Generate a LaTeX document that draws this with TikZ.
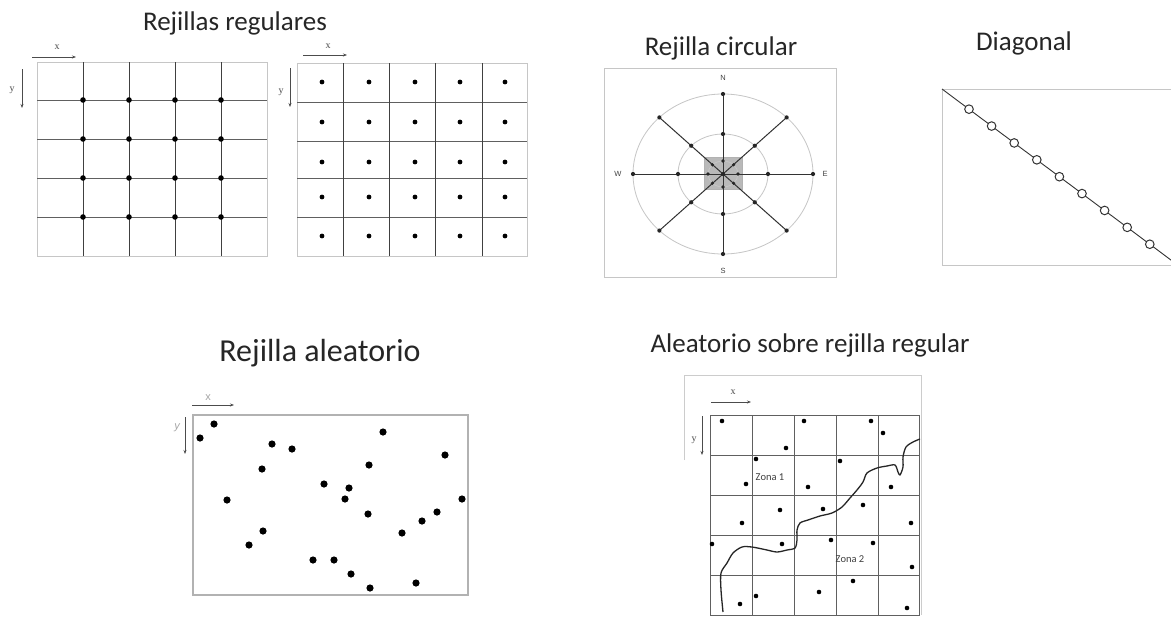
\documentclass[tikz,border=0pt]{standalone}
\usepackage{fontspec}
\setmainfont{Carlito}
\newfontfamily\serifx{Liberation Serif}
\newfontfamily\sansl{Liberation Sans}
\usetikzlibrary{arrows.meta,calc}
\begin{document}
\begin{tikzpicture}[x=1pt,y=-1pt,
  title/.style={font=\fontsize{27}{31}\selectfont, text=black!85, inner sep=0pt},
  bigtitle/.style={font=\fontsize{32}{36}\selectfont, text=black!85, inner sep=0pt},
  axlbl/.style={font=\serifx\fontsize{10}{11}\selectfont, text=black!70, inner sep=0pt},
  cmp/.style={font=\sansl\fontsize{7.5}{8}\selectfont, text=black!75, inner sep=0pt},
  zona/.style={font=\fontsize{10.5}{12}\selectfont, text=black!75, inner sep=0pt},
  axarrow/.style={-{Stealth[length=4pt,width=3pt]}, draw=gray!60!black, line width=0.7},
  gridline/.style={draw=gray!75!black, line width=0.8},
  vgridline/.style={draw=gray!50!black, line width=0.9},
  frame/.style={draw=gray!45, line width=1},
  spoke/.style={draw=gray!40!black, line width=1},
  ring/.style={draw=gray!45, line width=0.8}]
\useasboundingbox (0,0) rectangle (1171,627);
\fill[white] (0,0) rectangle (1171,627);

% ---------- titles ----------
\node[title] (t1) at (235,23) {Rejillas regulares};
\node[title] (t2) at (721,48) {Rejilla circular};
\node[title] (t3) at (1024,43) {Diagonal};
\node[bigtitle] (t4) at (320,353) {Rejilla aleatorio};
\node[title] (t5) at (810,345) {Aleatorio sobre rejilla regular};

% ---------- grid 1 (points on intersections) ----------
\draw[frame] (37,62) rectangle (267,256);
\foreach \y in {100,139,178,217} \draw[gridline] (37,\y) -- (267,\y);
\foreach \x in {83,129,175,221} \draw[vgridline] (\x,62) -- (\x,256);
\foreach \x in {83,129,175,221}
  \foreach \y in {100,139,178,217} \fill[black] (\x,\y) circle[radius=2.8];
\coordinate (g1xa) at (32,57); \coordinate (g1xb) at (76,57);
\draw[axarrow] (g1xa) -- (g1xb);
\node[axlbl] (g1x) at (57,47) {x};
\coordinate (g1ya) at (22,69); \coordinate (g1yb) at (22,108);
\draw[axarrow] (g1ya) -- (g1yb);
\node[axlbl] (g1y) at (12,90) {y};

% ---------- grid 2 (points in cell centres) ----------
\draw[frame] (297,63) rectangle (527,256);
\foreach \y in {102,141,178,217} \draw[gridline] (297,\y) -- (527,\y);
\foreach \x in {343,389,435,482} \draw[vgridline] (\x,63) -- (\x,256);
\foreach \x in {322,369,415,460,505}
  \foreach \y in {82,122,162,197,236} \fill[black] (\x,\y) circle[radius=2.4];
\coordinate (g2xa) at (303,55); \coordinate (g2xb) at (347,55);
\draw[axarrow] (g2xa) -- (g2xb);
\node[axlbl] (g2x) at (328,46) {x};
\coordinate (g2ya) at (290,68); \coordinate (g2yb) at (290,107);
\draw[axarrow] (g2ya) -- (g2yb);
\node[axlbl] (g2y) at (281,92) {y};

% ---------- circular grid ----------
\draw[frame] (604,68) rectangle (836,277);
\coordinate (c0) at (723,174);
\fill[gray!55] (704,157) rectangle (742,189);
\draw[gray!60, line width=0.5] (704,157) rectangle (742,189);
\draw[ring] (c0) ellipse[x radius=90, y radius=80];
\draw[ring] (c0) ellipse[x radius=45, y radius=40];
\draw[ring] (c0) ellipse[x radius=15, y radius=13];
\foreach \a in {0,45,...,315} {
  \draw[spoke] (c0) -- ++({90*cos(\a)},{80*sin(\a)});
  \fill[gray!30!black] ($(c0)+({90*cos(\a)},{80*sin(\a)})$) circle[radius=2.1];
  \fill[gray!30!black] ($(c0)+({45*cos(\a)},{40*sin(\a)})$) circle[radius=2.1];
  \fill[gray!30!black] ($(c0)+({15*cos(\a)},{13*sin(\a)})$) circle[radius=1.8];
}
\fill[gray!30!black] (c0) circle[radius=2];
\node[cmp] (cN) at (723,78) {N};
\node[cmp] (cS) at (723,271) {S};
\node[cmp] (cW) at (618,174) {W};
\node[cmp] (cE) at (825,174) {E};

% ---------- diagonal ----------
\draw[frame] (942,89) rectangle (1185,265);
\coordinate (da) at (942,89); \coordinate (db) at (1180,266.8);
\draw[black!80, line width=0.9] (da) -- (db);
\foreach \k in {0,...,8}
  \draw[black!80, line width=1, fill=white] ({969+22.6*\k},{89+0.747*(27+22.6*\k)}) circle[radius=4.3];

% ---------- random grid ----------
\draw[draw=gray!60, line width=1.3] (193,415) rectangle (468,595);
\coordinate (rxa) at (192,405); \coordinate (rxb) at (234,405);
\draw[axarrow] (rxa) -- (rxb);
\node[axlbl, text=gray!70, font=\sansl\fontsize{11}{12}\selectfont] (rx) at (208,398) {x};
\coordinate (rya) at (185,417); \coordinate (ryb) at (185,454);
\draw[axarrow] (rya) -- (ryb);
\node[axlbl, text=gray!70, font=\sansl\itshape\fontsize{11}{12}\selectfont] (ry) at (177,428) {y};
\foreach \p in {(200,438),(214,424),(272,444),(292,449),(262,469),(227,500),
  (383,432),(369,465),(445,455),(324,484),(349,488),(345,499),(462,499),
  (368,514),(437,512),(422,521),(402,533),(263,531),(249,545),(313,560),
  (334,560),(351,574),(416,583),(370,588)}
  \fill[black] \p circle[radius=3.6];

% ---------- random over regular grid ----------
\draw[draw=gray!40, line width=0.8] (684,460) -- (684,375) -- (921,375) -- (921,615);
\draw[gridline] (710,415) rectangle (919,615);
\foreach \x in {752,794,836,878} \draw[gridline] (\x,415) -- (\x,615);
\foreach \y in {455,495,535,575} \draw[gridline] (710,\y) -- (919,\y);
\coordinate (qxa) at (711,402); \coordinate (qxb) at (751,402);
\draw[axarrow] (qxa) -- (qxb);
\node[axlbl] (qx) at (733,392) {x};
\coordinate (qya) at (702,416); \coordinate (qyb) at (702,455);
\draw[axarrow] (qya) -- (qyb);
\node[axlbl] (qy) at (694,440) {y};
\foreach \p in {(722,421),(804,421),(871,421),(883,433),(786,448),(756,459),
  (840,461),(746,484),(808,487),(891,487),(780,510),(823,509),(863,505),
  (742,523),(911,523),(712,544),(782,544),(831,540),(873,543),(912,567),
  (853,581),(819,592),(756,596),(740,604),(907,608)}
  \fill[black] \p circle[radius=2.3];
\draw[black!85, line width=1.3, line join=round] plot[smooth, tension=0.5] coordinates {
  (723,612) (721,590) (721,573) (727,563) (733,553) (742,547) (752,547)
  (767,550) (777,552) (787,550) (795,548) (797,540) (797,530) (800,523)
  (808,520) (820,516) (832,513) (842,507) (850,498) (857,490) (863,482)
  (867,473) (877,468) (887,466) (895,465) (898,472) (900,475) (903,467)
  (903,457) (906,447) (913,442) (920,439)};
\node[zona] (z1) at (770,477) {Zona 1};
\node[zona] (z2) at (850,559) {Zona 2};
\end{tikzpicture}
\end{document}
